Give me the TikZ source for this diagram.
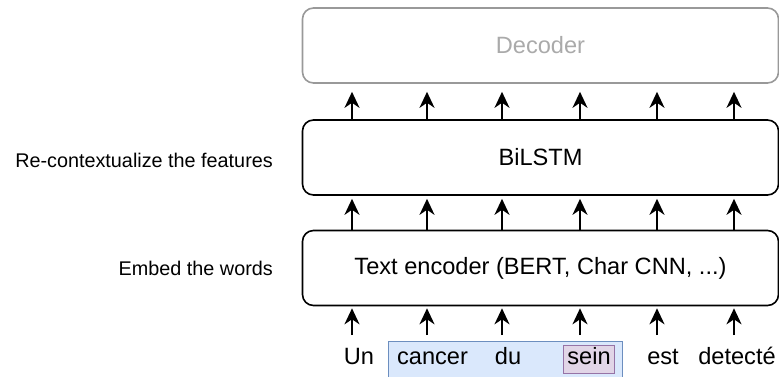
\documentclass[tikz,border=0pt]{standalone}
\usepackage{fontspec}
\setmainfont{Liberation Sans}
\usetikzlibrary{arrows.meta}
\definecolor{blueF}{HTML}{DAE8FC}
\definecolor{blueD}{HTML}{6C8EBF}
\definecolor{purpF}{HTML}{E1D5E7}
\definecolor{purpD}{HTML}{9673A6}
\definecolor{decD}{HTML}{999999}
\definecolor{decT}{HTML}{AAAAAA}
\begin{document}
\begin{tikzpicture}[x=1pt,y=-1pt,
  layer/.style={draw, line width=1.6pt, rounded corners=11pt, minimum width=476pt, minimum height=75pt, inner sep=0pt, font=\fontsize{23.6}{28}\selectfont},
  lbl/.style={anchor=east, inner sep=0pt, font=\fontsize{19.8}{24}\selectfont},
  word/.style={anchor=base, inner sep=0pt, font=\fontsize{23.6}{28}\selectfont},
  up/.style={line width=1.7pt, -{Stealth[length=16pt,width=15pt,inset=5pt]}}]
\clip (0,0) rectangle (779,376);
\node[layer, draw=decD, text=decT] (dec) at (540.5,45.5) {Decoder};
\node[layer] (bilstm) at (540.5,157.5) {BiLSTM};
\node[layer] (enc) at (540.5,268) {Text encoder (BERT, Char CNN, ...)};
\node[lbl] (l1) at (273,160) {Re-contextualize the features};
\node[lbl] (l2) at (273,268) {Embed the words};
\node[draw=blueD, fill=blueF, line width=1.2pt, anchor=north west, minimum width=234pt, minimum height=42pt, inner sep=0pt] (grp) at (388,341) {};
\node[draw=purpD, fill=purpF, line width=1.2pt, anchor=north west, minimum width=51pt, minimum height=28pt, inner sep=0pt] (hl) at (563,345) {};
\node[word] (w1) at (359,364.5) {Un};
\node[word] (w2) at (432.5,364.5) {cancer};
\node[word] (w3) at (508,364.5) {du};
\node[word] (w4) at (589,364.5) {sein};
\node[word] (w5) at (663,364.5) {est};
\node[word] (w6) at (737,364.5) {detecté};
\foreach \i/\x in {1/352,2/427,3/502,4/580,5/657,6/734} {
  \coordinate (c\i) at (\x,335);
  \draw[up, shorten >=2pt] (c\i) -- (enc.south -| c\i);
  \draw[up, shorten >=3pt] (enc.north -| c\i) -- (bilstm.south -| c\i);
  \draw[up, shorten >=8pt] (bilstm.north -| c\i) -- (dec.south -| c\i);
}
\end{tikzpicture}
\end{document}
